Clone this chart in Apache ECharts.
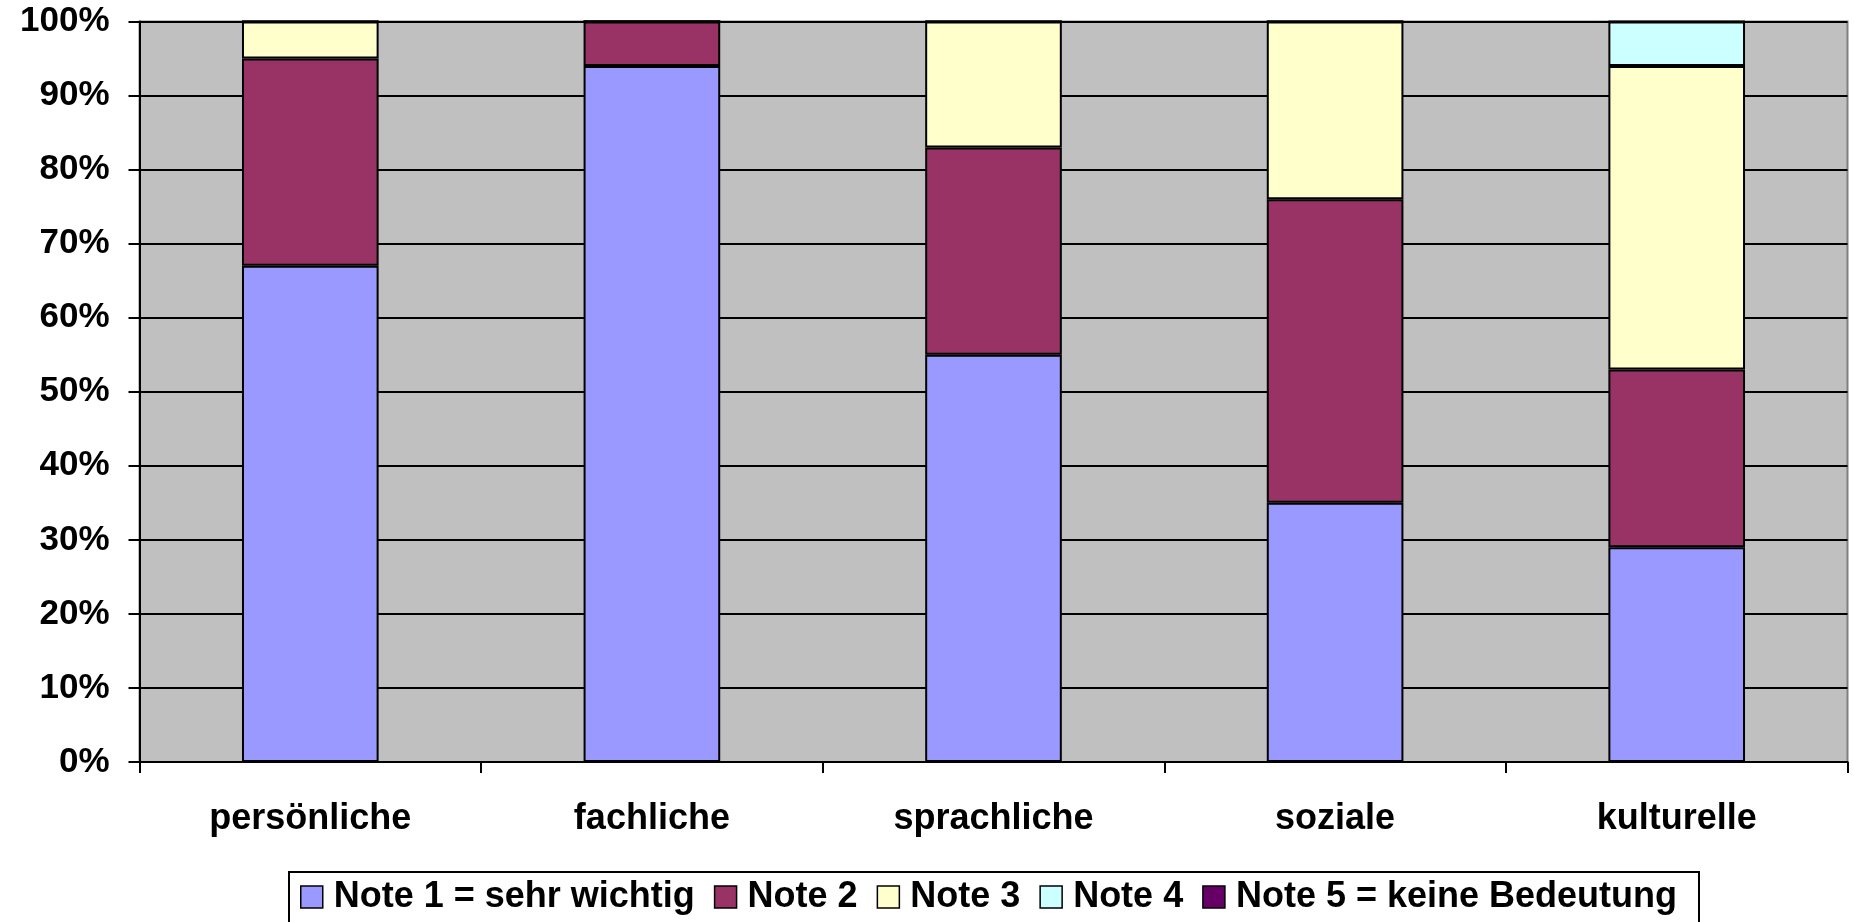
<!DOCTYPE html>
<html>
<head>
<meta charset="utf-8">
<script src="https://cdn.jsdelivr.net/npm/echarts@6/dist/echarts.min.js"></script>
<style>html,body{margin:0;padding:0;background:#fff}#c{width:1854px;height:922px}</style>
</head>
<body>
<div id="c"></div>
<script>
const categories = ['persönliche', 'fachliche', 'sprachliche', 'soziale', 'kulturelle'];
const seriesNames = ['Note 1 = sehr wichtig', 'Note 2', 'Note 3', 'Note 4', 'Note 5 = keine Bedeutung'];
const note1 = [67, 94, 55, 35, 29];
const note2 = [28, 6, 28, 41, 24];
const note3 = [5, 0, 17, 24, 41];
const note4 = [0, 0, 0, 0, 6];
const note5 = [0, 0, 0, 0, 0];
const seriesColors = ['#9999FF', '#993366', '#FFFFCC', '#CCFFFF', '#660066'];
const yTicks = [0, 10, 20, 30, 40, 50, 60, 70, 80, 90, 100];

const allData = [note1, note2, note3, note4, note5];
const font = 'Liberation Sans, Arial, sans-serif';

const chart = echarts.init(document.getElementById('c'), null, {renderer: 'canvas'});
chart.setOption({
  animation: false,
  backgroundColor: '#fff',
  grid: {
    left: 139.5, right: 6.5, top: 21.5, bottom: 160,
    show: true, backgroundColor: '#C0C0C0', borderColor: '#808080', borderWidth: 2
  },
  legend: {
    data: seriesNames,
    left: 289,
    top: 872,
    itemWidth: 22, itemHeight: 22, itemGap: 19,
    padding: [7, 22, 30, 11],
    borderColor: '#000', borderWidth: 2,
    backgroundColor: '#fff',
    icon: 'rect',
    itemStyle: {borderColor: '#000', borderWidth: 1.5},
    textStyle: {fontFamily: font, fontWeight: 'bold', fontSize: 36, color: '#000', padding: [0, 0, 0, 6]}
  },
  xAxis: {
    type: 'category',
    data: categories,
    boundaryGap: true,
    axisLine: {show: true, lineStyle: {color: '#000', width: 2}},
    axisTick: {show: true, alignWithLabel: false, length: 11, lineStyle: {color: '#000', width: 2}},
    axisLabel: {fontFamily: font, fontWeight: 'bold', fontSize: 36, color: '#000', margin: 39}
  },
  yAxis: {
    type: 'value',
    min: yTicks[0], max: yTicks[yTicks.length - 1], interval: 10,
    axisLine: {show: true, lineStyle: {color: '#000', width: 2}},
    axisTick: {show: true, length: 11, lineStyle: {color: '#000', width: 2}},
    axisLabel: {fontFamily: font, fontWeight: 'bold', fontSize: 35, color: '#000', margin: 30, formatter: '{value}%'},
    splitLine: {show: true, lineStyle: {color: '#000', width: 2}}
  },
  series: seriesNames.map((n, i) => ({
    name: n,
    type: 'bar',
    stack: 'total',
    barWidth: '40%',
    data: allData[i],
    itemStyle: {color: seriesColors[i], borderColor: '#000', borderWidth: 2}
  }))
});
</script>
</body>
</html>
